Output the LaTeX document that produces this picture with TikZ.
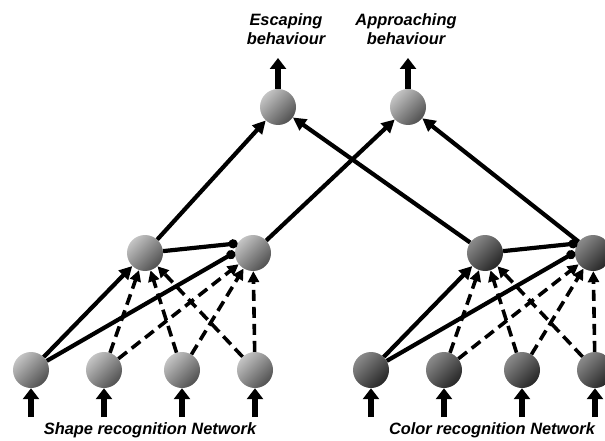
\documentclass[tikz,border=0pt]{standalone}
\usepackage{fontspec}
\setmainfont{Liberation Sans}
\usepackage{tikz}
\usetikzlibrary{
  arrows.meta,
  shapes.geometric,
  positioning
}
\definecolor{shapeHi}{HTML}{C4C4C4}
\definecolor{shapeLo}{HTML}{505050}
\definecolor{colorHi}{HTML}{8A8A8A}
\definecolor{colorLo}{HTML}{262626}

\tikzset{
  neuron/.style={circle, minimum size=36pt, inner sep=0pt},
  shapeN/.style={neuron, top color=shapeHi, bottom color=shapeLo, shading angle=45},
  colorN/.style={neuron, top color=colorHi, bottom color=colorLo, shading angle=45},
  excite/.style={line width=4.2pt, -{Triangle[length=13pt,width=13pt]}},
  inhib/.style={line width=4.2pt, -{Circle[length=9pt]}},
  weak/.style={line width=3.6pt, dash pattern=on 11pt off 6pt, -{Triangle[length=11pt,width=11pt]}},
  inarrow/.style={line width=5.5pt, -{Triangle[length=11pt,width=16pt]}},
  lab/.style={font=\fontsize{16.4}{19}\selectfont\bfseries\itshape, align=center}
}

\begin{document}
\begin{tikzpicture}[x=1pt, y=1pt]
  \useasboundingbox (0,0) rectangle (605,440);
  % output neurons
  \node[shapeN] (esc) at (278,333) {};
  \node[shapeN] (appr) at (408,333) {};
  \coordinate (escOut) at (278,382);
  \coordinate (apprOut) at (408,382);
  \draw[inarrow] (esc) -- (escOut);
  \draw[inarrow] (appr) -- (apprOut);
  \node[lab] (escLab) at (286,411) {Escaping\\behaviour};
  \node[lab] (apprLab) at (406,411) {Approaching\\behaviour};

  % Shape recognition network
  \begin{scope}
    \node[shapeN] (sA) at (145,187) {};
    \node[shapeN] (sB) at (253,187) {};
    \foreach \i/\x in {1/31, 2/104, 3/182, 4/255} {
      \node[shapeN] (s\i) at (\x,70) {};
      \coordinate (sIn\i) at (\x,23);
      \draw[inarrow] (sIn\i) -- (s\i);
    }
    \draw[excite] (s1) -- (sA);
    \draw[inhib] (s1) -- (sB.178);
    \draw[inhib] (sA) -- (sB.148);
    \foreach \i in {2,3,4} {
      \draw[weak] (s\i) -- (sA);
      \draw[weak] (s\i) -- (sB);
    }
    \node[lab] (sLab) at (150,10) {Shape recognition Network};
  \end{scope}

  % Color recognition network
  \begin{scope}[shift={(340,0)}]
    \node[colorN] (cA) at (145,187) {};
    \node[colorN] (cB) at (253,187) {};
    \foreach \i/\x in {1/31, 2/104, 3/182, 4/255} {
      \node[colorN] (c\i) at (\x,70) {};
      \coordinate (cIn\i) at (\x,23);
      \draw[inarrow] (cIn\i) -- (c\i);
    }
    \draw[excite] (c1) -- (cA);
    \draw[inhib] (c1) -- (cB.178);
    \draw[inhib] (cA) -- (cB.148);
    \foreach \i in {2,3,4} {
      \draw[weak] (c\i) -- (cA);
      \draw[weak] (c\i) -- (cB);
    }
    \node[lab] (cLab) at (152,10) {Color recognition Network};
  \end{scope}

  % to the output neurons
  \draw[excite] (sA) -- (esc);
  \draw[excite] (cA) -- (esc);
  \draw[excite] (sB) -- (appr);
  \draw[excite] (cB) -- (appr);
\end{tikzpicture}
\end{document}
